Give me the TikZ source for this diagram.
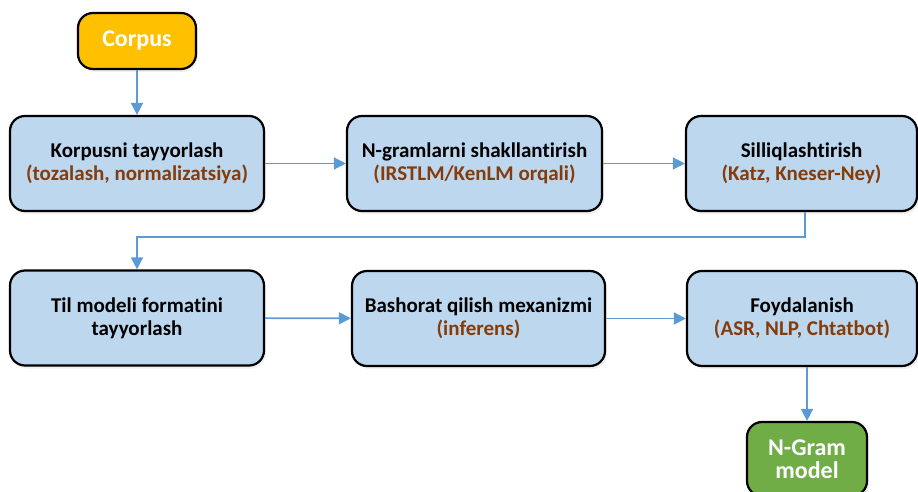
\documentclass[tikz,border=0pt]{standalone}
\usepackage{fontspec}
\setmainfont{Carlito}[Ligatures=NoCommon]
\usetikzlibrary{arrows.meta,shadows}
\definecolor{boxblue}{HTML}{BDD7EE}
\definecolor{arrblue}{HTML}{5B9BD5}
\definecolor{brown}{HTML}{843C0C}
\definecolor{gold}{HTML}{FFC000}
\definecolor{grn}{HTML}{70AD47}
\tikzset{
  proc/.style={draw=black, line width=2.2pt, rounded corners=15pt, fill=boxblue,
    align=center, inner sep=0pt, minimum height=95pt,
    font=\fontsize{21}{23}\selectfont\bfseries, text=black,
    drop shadow={shadow xshift=2pt, shadow yshift=-3pt, opacity=0.12}},
  term/.style={draw=black, line width=2.2pt, rounded corners=15pt,
    align=center, inner sep=0pt, text=white,
    drop shadow={shadow xshift=2pt, shadow yshift=-3pt, opacity=0.12}},
  arr/.style={draw=arrblue, line width=1.6pt, -{Triangle[length=12pt,width=12pt]}},
}
\begin{document}
\begin{tikzpicture}[x=1pt,y=-1pt]
\useasboundingbox (0,0) rectangle (918,492);
\node[term, fill=gold, minimum width=118pt, minimum height=56pt,
  font=\fontsize{24}{26}\selectfont\bfseries] (corpus) at (137,41) {Corpus};
\node[proc, minimum width=254pt] (b1) at (137,163.5)
  {Korpusni tayyorlash\\ \textcolor{brown}{(tozalash, normalizatsiya)}};
\node[proc, minimum width=255pt] (b2) at (474.5,163.5)
  {N-gramlarni shakllantirish\\ \textcolor{brown}{(IRSTLM/KenLM orqali)}};
\node[proc, minimum width=231pt] (b3) at (801.5,163.5)
  {Silliqlashtirish\\ \textcolor{brown}{(Katz, Kneser-Ney)}};
\node[proc, minimum width=254pt] (b4) at (137,318)
  {Til modeli formatini\\ tayyorlash};
\node[proc, minimum width=253pt] (b5) at (478.5,318.5)
  {Bashorat qilish mexanizmi\\ \textcolor{brown}{(inferens)}};
\node[proc, minimum width=230pt] (b6) at (802,318.5)
  {Foydalanish\\ \textcolor{brown}{(ASR, NLP, Chtatbot)}};
\node[term, fill=grn, minimum width=120pt, minimum height=74pt,
  font=\fontsize{24}{23}\selectfont\bfseries] (ng) at (807,459) {N-Gram\\ model};
\draw[arr] (corpus) -- (b1);
\draw[arr] (b1) -- (b2);
\draw[arr] (b2) -- (b3);
\draw[arr] (b3.south -| 805,0) -- ++(0,25) -| (b4.north);
\draw[arr] (b4) -- (b5);
\draw[arr] (b5) -- (b6);
\draw[arr] (b6.south -| ng.north) -- (ng.north);
\end{tikzpicture}
\end{document}
